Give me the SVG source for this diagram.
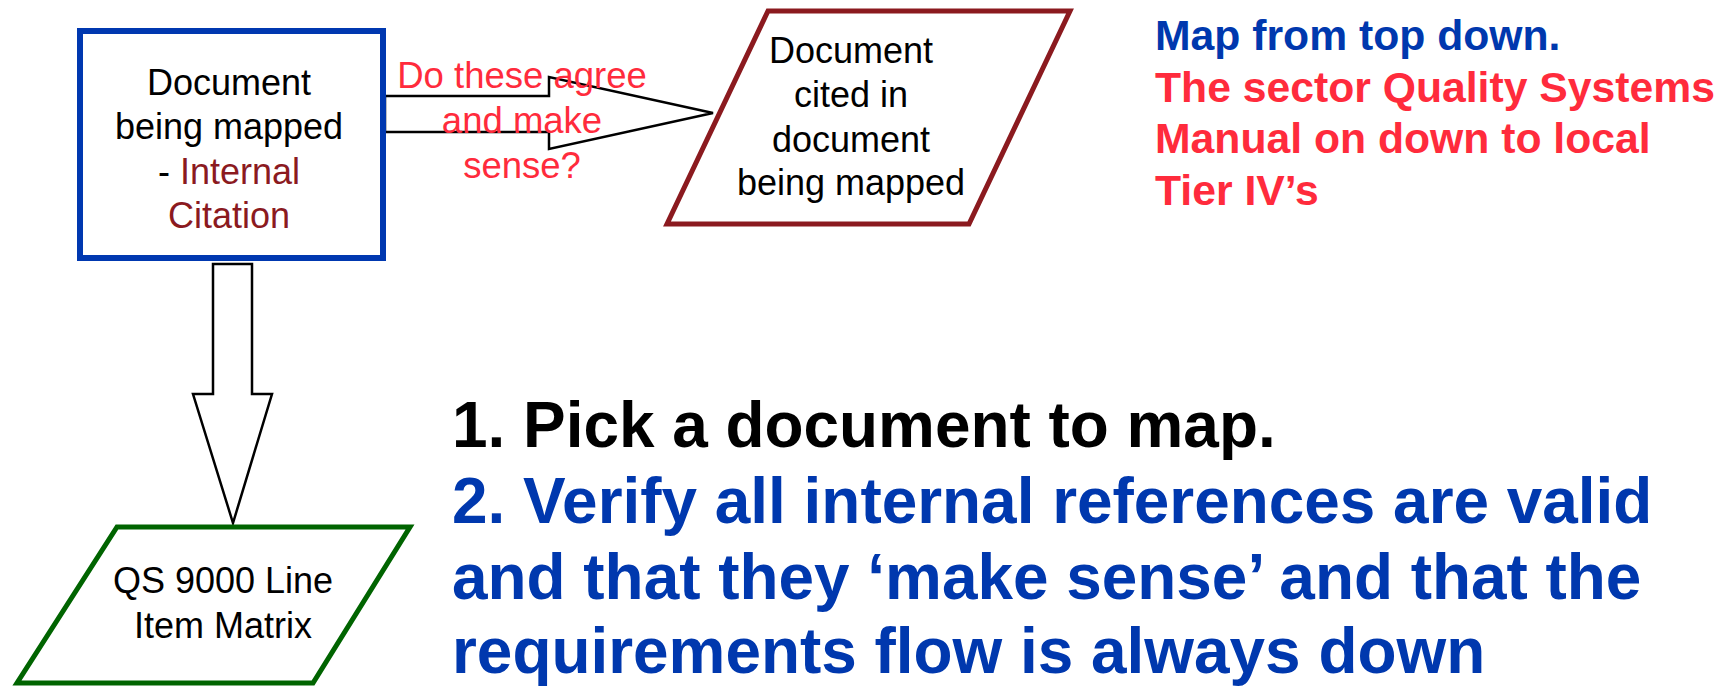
<svg xmlns="http://www.w3.org/2000/svg" width="1735" height="687" viewBox="0 0 1735 687">
<style>
  .lbl { font-family: "Liberation Sans", Arial, sans-serif; font-size: 36px; fill: #000; text-anchor: middle; }
  .red { fill: #FF2B3C; }
  .dred { fill: #8B1A1F; }
  .blue { fill: #0038AE; }
  .big { font-family: "Liberation Sans", Arial, sans-serif; font-weight: bold; }
  .arrow { fill: #fff; stroke: #000; stroke-width: 2.5; stroke-linejoin: miter; }
</style>
<rect width="1735" height="687" fill="#fff"/>
<g id="connectors">
  <path class="arrow" d="M385,96 L549,96 L549,77 L713,113 L549,149 L549,132 L385,132 Z"/>
  <path class="arrow" d="M213,264 L252,264 L252,394 L272,394 L233,523 L193,394 L213,394 Z"/>
  <text class="lbl red" style="font-size:36.5px"><tspan x="522" y="88">Do these agree</tspan><tspan x="522" y="133">and make</tspan><tspan x="522" y="178">sense?</tspan></text>
</g>
<g id="node-mapped">
  <rect x="80" y="31" width="303" height="227" fill="#fff" stroke="#0038B0" stroke-width="6"/>
  <text class="lbl"><tspan x="229" y="95">Document</tspan><tspan x="229" y="139">being mapped</tspan><tspan x="229" y="184">- <tspan class="dred">Internal</tspan></tspan><tspan x="229" y="228" class="dred">Citation</tspan></text>
</g>
<g id="node-cited">
  <polygon points="768,11 1070,11 969,224 667,224" fill="#fff" stroke="#8B1A1F" stroke-width="5"/>
  <text class="lbl"><tspan x="851" y="63">Document</tspan><tspan x="851" y="107">cited in</tspan><tspan x="851" y="152">document</tspan><tspan x="851" y="195">being mapped</tspan></text>
</g>
<g id="node-matrix">
  <polygon points="117,527 410,527 313,683 17,683" fill="#fff" stroke="#006400" stroke-width="5"/>
  <text class="lbl"><tspan x="223" y="593">QS 9000 Line</tspan><tspan x="223" y="638">Item Matrix</tspan></text>
</g>
<g id="note-topdown">
  <text class="big" style="font-size:42.7px"><tspan x="1155" y="50" class="blue">Map from top down.</tspan><tspan x="1155" y="102" class="red">The sector Quality Systems</tspan><tspan x="1155" y="153" class="red">Manual on down to local</tspan><tspan x="1155" y="205" class="red">Tier IV’s</tspan></text>
</g>
<g id="note-steps">
  <text class="big" style="font-size:63.9px"><tspan x="452" y="447" fill="#000">1. Pick a document to map.</tspan><tspan x="452" y="523" class="blue">2. Verify all internal references are valid</tspan><tspan x="452" y="599" class="blue">and that they ‘make sense’ and that the</tspan><tspan x="452" y="673" class="blue">requirements flow is always down</tspan></text>
</g>
</svg>
